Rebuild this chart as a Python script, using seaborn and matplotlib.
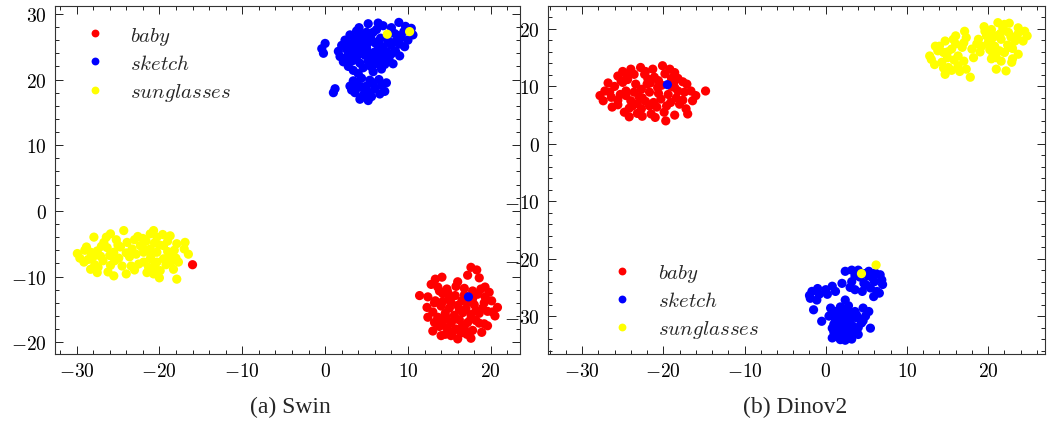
import numpy as np
import pandas as pd
import matplotlib
matplotlib.use("Agg")
import matplotlib.pyplot as plt
import seaborn as sns
from matplotlib.ticker import MultipleLocator, FuncFormatter

# ---- Swin embedding ----
swin_baby_x = [17.6, 18.3, 17.2, 18.6, 16.0, 13.3, 14.1, 12.8,
               19.3, 13.6, 14.7, 11.4, 12.4, 15.7, 16.8, 17.8, 18.4, 19.3, 15.0, 13.3, 16.5, 14.2,
               20.1, 20.8, 12.3, 13.0, 14.0, 15.0, 16.0, 17.0, 18.0, 19.0, 14.5, 15.6, 16.6, 17.6, 18.6, 19.6, 13.6,
               20.5, 12.4, 13.2, 14.2, 15.2, 16.2, 17.2, 18.2, 19.2, 14.7, 15.8, 16.8, 17.8, 19.6, 13.8,
               13.0, 14.5, 16.0, 17.1, 18.9, 15.2, 17.6, -16.0,
               13.8, 14.8, 15.8, 16.8, 17.8, 18.8, 19.8, 13.2, 14.2, 15.2, 16.2, 17.2, 18.2, 19.2, 20.2,
               13.6, 14.6, 15.6, 16.6, 17.6, 18.6, 15.4, 16.4, 17.4, 14.0]
swin_baby_y = [-8.6, -9.0, -9.8, -10.2, -10.8, -10.4, -10.1, -11.2,
               -11.6, -11.6, -11.9, -12.9, -13.1, -12.9, -11.8, -12.2, -12.7, -13.1, -13.3, -13.7, -13.7, -12.6,
               -13.7, -14.7, -14.7, -15.4, -14.5, -14.8, -14.4, -14.9, -14.3, -14.8, -15.6, -15.9, -15.5, -15.8, -15.6, -15.3, -16.2,
               -16.0, -16.2, -17.0, -16.8, -17.1, -16.6, -17.0, -16.7, -17.2, -17.8, -18.0, -17.9, -18.2, -17.5, -17.6,
               -18.3, -18.8, -19.5, -18.8, -18.5, -19.0, -19.4, -8.2,
               -12.2, -12.4, -11.5, -12.8, -13.4, -11.9, -12.4, -14.0, -13.8, -14.0, -15.0, -13.9, -15.2, -14.0, -15.4,
               -16.5, -16.2, -16.5, -17.4, -16.4, -17.1, -18.4, -18.6, -18.6, -19.0]

swin_sketch_x = [5.2, 8.9, 10.4, 7.0, 6.2, 4.1, 9.5, 8.0,
                 3.0, 5.8, 8.4, 4.5, 6.7, 9.2, 2.4, 3.6, 7.6, 10.0, 5.2,
                 2.0, 3.0, 4.0, 5.0, 6.0, 7.0, 8.0, 9.0, 2.6, 4.6, 6.4, 8.5, 1.6,
                 1.8, 2.8, 3.8, 4.8, 5.6, 6.8, 7.7, 9.0, 3.2, 4.2, 5.2, 6.2,
                 2.2, 3.4, 4.6, 5.8, 7.2, 8.2, 2.8, 6.8, 4.0,
                 3.5, 5.5, 7.4, 4.3, 6.4, 9.7,
                 -0.4, 0.0, -0.2,
                 3.4, 4.4, 5.4, 6.5, 7.4, 3.0, 4.0, 5.0, 6.0, 7.2, 3.6, 4.6, 5.6, 6.6, 4.2, 5.2, 3.2, 1.2, 1.0,
                 2.5, 3.5, 4.5, 5.5, 6.5, 7.5, 8.5, 3.0, 4.0, 5.0, 6.0, 7.0, 8.0,
                 2.5, 3.5, 4.5, 5.5, 6.5, 7.5, 9.6, 10.6, 8.8, 3.8, 5.0, 6.2,
                 3.8, 4.8, 5.8, 6.8, 4.4, 5.4,
                 17.3]
swin_sketch_y = [28.5, 28.7, 27.8, 28.2, 27.6, 27.9, 27.3, 27.9,
                 26.8, 27.2, 27.0, 26.5, 26.3, 26.4, 26.0, 26.2, 25.9, 26.0, 26.0,
                 25.2, 25.4, 25.0, 25.3, 25.6, 25.0, 25.2, 25.4, 24.6, 24.4, 24.6, 24.3, 24.3,
                 23.5, 23.8, 23.4, 23.7, 23.2, 23.6, 23.2, 23.6, 22.8, 22.5, 22.8, 22.4,
                 22.7, 21.4, 21.8, 21.2, 22.3, 22.4, 22.0, 21.6, 20.9,
                 24.2, 24.0, 24.2, 26.9, 28.6, 28.1,
                 24.7, 25.5, 24.0,
                 19.8, 20.2, 19.9, 20.0, 19.5, 19.0, 18.8, 19.0, 18.6, 18.2, 18.0, 17.6, 17.4, 17.8, 17.0, 16.8, 18.4, 18.6, 18.0,
                 25.8, 25.8, 25.8, 26.4, 25.9, 26.6, 25.8, 24.8, 24.6, 24.8, 24.2, 24.5, 23.9,
                 23.0, 23.0, 24.0, 22.0, 23.0, 22.8, 25.0, 26.8, 26.7, 27.4, 27.2, 23.9,
                 19.4, 18.3, 19.5, 19.1, 18.9, 18.0,
                 -13.1]

swin_sun_x = [-29.9, -29.1, -27.9, -26.7, -25.9, -24.3, -28.3, -27.5, -27.1, -28.3, -27.5, -25.9, -25.5, -24.5,
              -25.5, -24.7, -23.9, -23.3, -22.3, -21.1, -20.3, -20.7, -21.9, -21.1, -20.3, -19.5, -18.7, -17.9,
              -16.9, -16.5, -17.7, -18.7, -19.5, -20.3, -21.1, -21.9, -22.5, -21.5, -20.7, -19.9, -18.3, -17.9,
              -28.8, -26.3, -26.8, -28.6, -24.9, -23.6, -22.8, -20.6, -19.0, -18.2, -19.2, -21.3, -23.0, -26.2,
              -27.8, -29.6, -25.2, -22.0, -17.0, -20.0, -24.0, -22.6,
              -29.0, -28.0, -27.0, -26.0, -25.0, -24.0, -23.0, -22.0, -21.0, -20.0, -19.0, -18.0,
              -27.4, -26.4, -25.4, -21.6, -20.6, -19.6, -18.6, -23.4,
              7.5, 10.2]
swin_sun_y = [-6.5, -7.8, -4.0, -4.8, -3.5, -3.0, -6.3, -6.1, -6.9, -8.9, -9.4, -8.3, -9.9, -8.4,
              -6.3, -5.5, -4.8, -5.8, -5.3, -3.5, -4.0, -3.0, -6.3, -5.8, -6.3, -5.3, -3.8, -5.0,
              -4.8, -6.6, -7.8, -6.8, -7.3, -7.8, -7.3, -7.8, -8.1, -9.4, -9.6, -9.1, -8.9, -10.4,
              -5.5, -5.6, -7.6, -7.4, -7.2, -7.0, -6.6, -4.9, -4.6, -6.0, -8.2, -8.6, -9.0, -9.3,
              -8.2, -7.2, -4.4, -4.2, -5.8, -10.2, -9.6, -3.9,
              -6.0, -7.0, -5.4, -6.8, -5.2, -6.4, -4.4, -5.6, -6.8, -5.2, -6.2, -7.2,
              -8.6, -4.0, -7.6, -4.6, -8.4, -3.6, -7.8, -8.4,
              26.9, 27.3]

# ---- Dinov2 embedding ----
dino_baby_x = [-27.2, -27.4, -26.4, -26.3, -25.6, -25.0, -24.6, -24.0, -24.8, -24.2, -23.6, -22.8, -22.3, -21.3,
               -20.1, -23.8, -22.7, -21.7, -21.5, -19.9, -19.7, -22.7, -21.7, -20.7, -21.1, -21.9, -18.7, -18.2,
               -17.4, -17.1, -16.6, -16.4, -17.2, -18.0, -19.1, -20.3, -14.8,
               -26.0, -25.3, -23.4, -23.0, -24.4, -22.2, -20.6, -19.8, -18.6, -19.4, -18.4, -17.6, -20.8, -23.2,
               -25.6, -27.8, -26.8, -24.0, -22.0, -19.0, -16.0, -17.0, -18.6, -21.0, -25.0, -19.0,
               -26.6, -25.6, -24.6, -23.6, -22.6, -21.6, -20.6, -19.6, -18.6, -17.6,
               -25.2, -24.2, -23.2, -22.2, -21.2, -20.2, -19.2, -18.2, -24.6, -22.6]
dino_baby_y = [9.2, 7.5, 8.1, 6.4, 11.8, 10.7, 9.2, 7.5, 5.5, 4.7, 12.1, 13.3, 12.1, 13.0,
               13.6, 6.6, 6.1, 6.6, 5.2, 5.5, 4.0, 9.5, 9.0, 9.8, 11.6, 11.3, 10.7, 9.2,
               9.0, 10.4, 9.2, 7.5, 6.1, 6.9, 7.2, 7.8, 9.2,
               10.0, 8.6, 10.4, 8.2, 11.2, 7.4, 11.0, 12.2, 12.4, 8.6, 8.0, 7.6, 6.4, 5.3,
               6.8, 8.4, 10.6, 13.0, 10.4, 11.4, 8.4, 5.2, 5.0, 4.6, 12.6, 10.0,
               9.0, 7.6, 8.4, 9.0, 8.0, 10.6, 8.8, 6.6, 9.8, 10.8,
               11.0, 6.2, 7.0, 12.6, 7.2, 10.2, 13.0, 11.4, 12.2, 4.8]

dino_sketch_x = [2.4, 3.2, 4.0, 5.3, 6.1, 6.7, 6.9, 2.0, 3.2, 4.7, 5.5, 6.3, 5.9, 0.8, 0.0, 1.2, 3.6, 4.5,
                 -1.7, -1.9, -1.1, -1.5, 2.4, 0.6, 1.2, 2.0, 2.8, 3.6, 1.2, 2.0, 2.8, 3.8, 4.9, 5.3, -0.5,
                 0.8, 1.6, 2.6, 3.4, 0.8, 1.8, 2.8, 4.0, 5.5,
                 1.6, 2.4, 3.0, 1.8, 2.8, 3.4, 2.2, 4.4, 1.0, 5.0, 7.0, 6.6, 4.2, 5.8, -0.8, -2.0, 3.0, 1.4,
                 4.6, 0.4,
                 0.6, 1.4, 2.2, 3.0, 3.8, 4.6, 1.0, 2.0, 3.0, 4.0, 1.4, 2.4, 3.2, -1.0, 0.2, 5.2, 6.0, 3.6, 4.8, 2.6,
                 -19.5]
dino_sketch_y = [-22.2, -22.0, -22.0, -22.2, -22.5, -22.8, -23.7, -24.3, -24.0, -24.3, -25.1, -25.7, -26.6,
                 -24.8, -25.4, -25.7, -25.4, -25.7, -25.7, -26.9, -27.2, -28.9, -27.2, -28.6, -29.2, -29.2,
                 -29.2, -29.2, -30.6, -30.3, -30.6, -30.3, -30.0, -29.2, -30.9, -32.1, -32.4, -32.1, -31.8,
                 -33.8, -34.1, -33.8, -33.2, -32.1,
                 -31.2, -31.4, -30.0, -28.4, -28.2, -32.8, -33.0, -31.2, -31.4, -24.6, -24.5, -26.0, -23.2,
                 -23.4, -26.2, -26.4, -25.0, -33.2, -28.6, -30.0,
                 -29.8, -30.0, -29.8, -31.0, -29.8, -30.8, -32.8, -31.8, -32.6, -32.0, -33.6, -34.2, -34.0,
                 -25.2, -26.2, -23.0, -24.0, -23.0, -22.6, -28.8,
                 10.3]

dino_sun_x = [12.8, 13.0, 13.5, 14.7, 15.7, 17.1, 17.3, 14.5, 15.5, 16.3, 18.0, 18.2, 14.3, 15.1, 14.7,
              16.3, 17.3, 17.8, 18.8, 19.6, 20.4, 21.2, 20.0, 20.8, 21.6, 22.5, 23.7, 24.5, 23.3, 24.3,
              20.6, 22.0, 23.7, 21.6, 22.9, 21.0, 22.2,
              15.8, 16.8, 13.8, 16.0, 17.0, 15.0, 19.2, 21.0, 22.4, 20.2, 21.4, 22.8, 23.0, 19.8, 21.8,
              22.6, 20.4, 23.6, 18.6, 13.4,
              14.0, 15.0, 16.0, 17.0, 16.5, 15.5, 14.5, 19.5, 20.5, 21.5, 22.5, 23.5, 21.0, 22.0, 23.0,
              20.0, 24.8, 19.0,
              6.2, 4.4]
dino_sun_y = [15.3, 14.7, 17.0, 17.9, 18.2, 19.6, 18.5, 15.9, 16.5, 15.3, 16.5, 15.0, 14.2, 13.3, 12.1,
              13.6, 13.0, 11.6, 18.2, 19.6, 19.9, 21.1, 17.6, 17.0, 18.2, 19.4, 20.2, 19.6, 17.9, 17.9,
              15.6, 15.9, 15.6, 14.4, 14.2, 13.0, 12.7,
              14.6, 16.8, 16.2, 17.4, 14.4, 15.0, 17.0, 18.8, 17.2, 16.4, 16.2, 18.6, 16.6, 18.8, 20.2,
              21.0, 14.8, 19.0, 17.4, 13.8,
              17.0, 16.0, 18.8, 17.6, 12.6, 12.8, 13.2, 20.4, 18.4, 19.2, 16.8, 18.6, 15.0, 20.8, 14.8,
              19.2, 18.8, 16.0,
              -21.1, -22.6]

classes = [r"$baby$", r"$sketch$", r"$sunglasses$"]
palette = {r"$baby$": "#ff0000", r"$sketch$": "#0000ff", r"$sunglasses$": "#ffff00"}


def make_frame(groups):
    parts = []
    for name, (xs, ys) in zip(classes, groups):
        parts.append(pd.DataFrame({"x": xs, "y": ys, "cls": name}))
    return pd.concat(parts, ignore_index=True)


swin_df = make_frame([(swin_baby_x, swin_baby_y), (swin_sketch_x, swin_sketch_y), (swin_sun_x, swin_sun_y)])
dino_df = make_frame([(dino_baby_x, dino_baby_y), (dino_sketch_x, dino_sketch_y), (dino_sun_x, dino_sun_y)])

sns.set_style("ticks")
plt.rcParams["font.family"] = ["Liberation Serif", "DejaVu Serif"]
plt.rcParams["mathtext.fontset"] = "cm"

fig = plt.figure(figsize=(10.47, 4.27), dpi=100)
ax1 = fig.add_axes([0.0525, 0.1686, 0.444, 0.815])
ax2 = fig.add_axes([0.5234, 0.1686, 0.4747, 0.815])

tick_fmt = FuncFormatter(lambda v, pos: r"$%d$" % int(round(v)))


def draw(ax, df, xlim, ylim):
    sns.scatterplot(data=df, x="x", y="y", hue="cls", palette=palette, s=44,
                    linewidth=0, ax=ax, legend=True)
    ax.set_xlim(*xlim)
    ax.set_ylim(*ylim)
    ax.set_xlabel("")
    ax.set_ylabel("")
    ax.xaxis.set_major_locator(MultipleLocator(10))
    ax.xaxis.set_minor_locator(MultipleLocator(2))
    ax.yaxis.set_major_locator(MultipleLocator(10))
    ax.yaxis.set_minor_locator(MultipleLocator(2))
    ax.xaxis.set_major_formatter(tick_fmt)
    ax.yaxis.set_major_formatter(tick_fmt)
    ax.tick_params(which="both", direction="in", top=True, right=True, colors="#222222",
                   labelcolor="black", labelsize=14, width=0.7)
    ax.tick_params(which="major", length=5.5, pad=6)
    ax.tick_params(which="minor", length=3)
    for sp in ax.spines.values():
        sp.set_linewidth(0.8)
        sp.set_color("#333333")


draw(ax1, swin_df, (-32.6, 23.5), (-21.8, 31.2))
draw(ax2, dino_df, (-34.2, 27.0), (-36.6, 24.0))

sns.move_legend(ax1, "upper left", frameon=False, title=None, fontsize=15,
                labelspacing=0.35, handletextpad=0.7, markerscale=0.85)
sns.move_legend(ax2, "lower left", bbox_to_anchor=(0.07, -0.015), frameon=False, title=None,
                fontsize=15, labelspacing=0.35, handletextpad=0.7, markerscale=0.85)

fig.text(0.277, 0.045, "(a) Swin", ha="center", va="center", fontsize=17)
fig.text(0.759, 0.045, "(b) Dinov2", ha="center", va="center", fontsize=17)

fig.savefig("out.png", dpi=100)
